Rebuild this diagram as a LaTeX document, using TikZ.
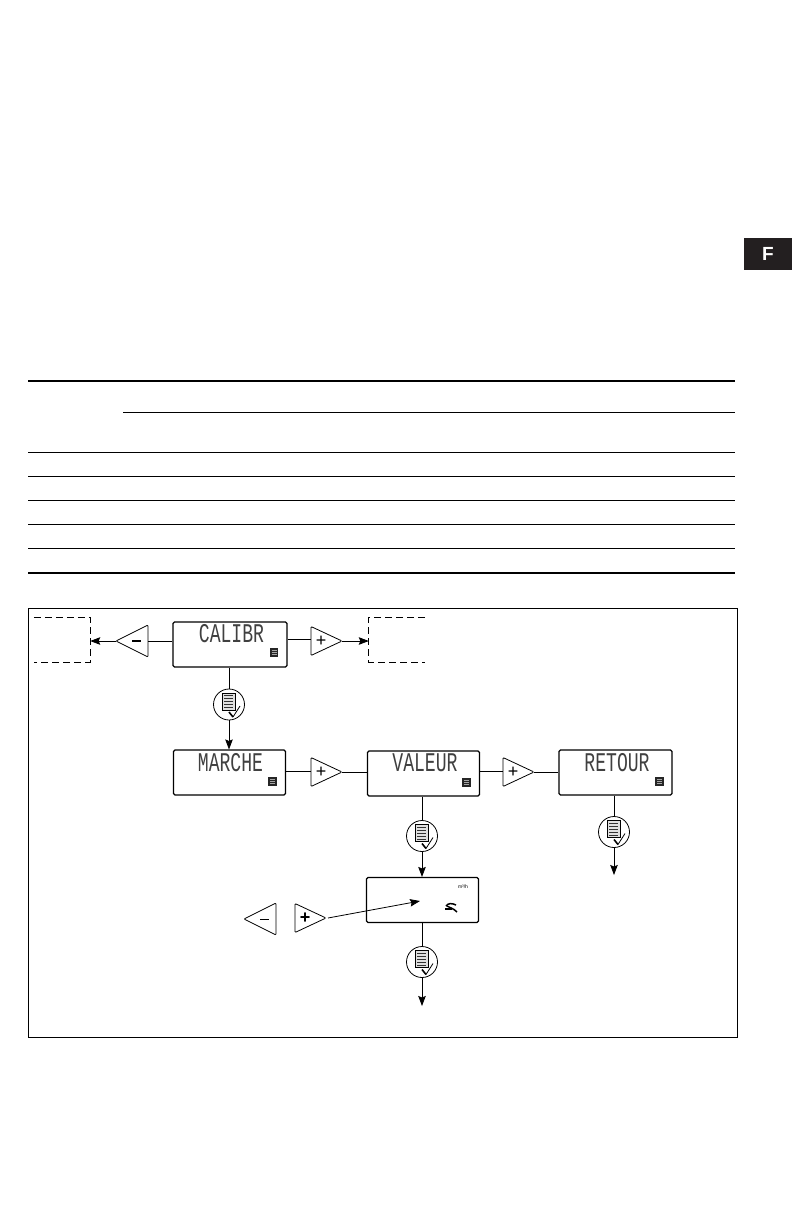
\documentclass[tikz,border=0pt]{standalone}
\usepackage{fontspec}
\usepackage{tikz}
\usetikzlibrary{arrows.meta,positioning,shapes.geometric}
\setmainfont{Liberation Sans}
\newfontfamily\lcdfont{Liberation Mono}
\definecolor{TabGrey}{HTML}{231F20}

\begin{document}
\begin{tikzpicture}[x=1pt,y=-1pt,
    lcd/.style={draw,rounded corners=1.5pt,line width=1.1pt,minimum width=112pt,minimum height=45pt,inner sep=0pt},
    lcdtext/.style={font=\lcdfont\fontsize{27}{27}\selectfont,text=black!75,xscale=0.67,inner sep=0pt},
    menuicon/.style={fill=black!85,minimum width=8.5pt,minimum height=9pt,inner sep=0pt,
        path picture={\foreach \i in {-2,0,2} \draw[black!35,line width=0.4pt] ([xshift=-2.5pt,yshift=\i pt]path picture bounding box.center) -- ++(5pt,0);}},
    okbtn/.style={circle,draw,line width=0.8pt,minimum size=31pt,inner sep=0pt,outer sep=0pt,
        path picture={
            \draw[line width=0.7pt,fill=black!12] ([xshift=-7pt,yshift=11.5pt]path picture bounding box.center) rectangle ++(13pt,-17pt);
            \foreach \i in {9,6,3,0,-3} \draw[line width=0.8pt,black!80] ([xshift=-5pt,yshift=\i pt]path picture bounding box.center) -- ++(9pt,0);
            \draw[line width=1.6pt] ([xshift=0pt,yshift=-7.5pt]path picture bounding box.center) -- ++(4pt,-5pt);
            \draw[line width=0.8pt] ([xshift=4pt,yshift=-12.5pt]path picture bounding box.center) -- ++(7pt,11pt);
        }},
    plusbtn/.style={draw,isosceles triangle,isosceles triangle stretches,shape border rotate=0,rounded corners=1pt,
        minimum width=29pt,minimum height=31pt,inner sep=0pt,outer sep=0pt,line width=0.8pt},
    minusbtn/.style={plusbtn,shape border rotate=180,minimum width=32pt,minimum height=32pt},
    ghostbox/.style={minimum width=56pt,minimum height=44pt,inner sep=0pt},
    ghostline/.style={dashed,dash pattern=on 7pt off 4pt,line width=0.8pt},
    link/.style={line width=0.8pt},
    arrow/.style={-{Stealth[length=10pt,width=7.5pt,inset=1.5pt]},line width=0.8pt},
    rulethin/.style={line width=1pt},
    rulethick/.style={line width=1.9pt}
]
\useasboundingbox (0,0) rectangle (792,1224);

% tab
\node[fill=TabGrey,text=white,font=\bfseries\fontsize{19}{19}\selectfont,minimum width=48pt,minimum height=32pt,inner sep=0pt] (tabF) at (768,254) {F};

% table rules
\coordinate (tl) at (28,381);  \coordinate (tr) at (735,381);
\draw[rulethick] (tl) -- (tr);
\coordinate (hl) at (123,412); \coordinate (hr) at (735,412);
\draw[rulethin] (hl) -- (hr);
\foreach \y in {452,476,500,524,548}
    \draw[rulethin] (28,\y) -- (735,\y);
\coordinate (bl) at (28,573);  \coordinate (br) at (735,573);
\draw[rulethick] (bl) -- (br);

% frame
\node[draw,line width=0.9pt,minimum width=709pt,minimum height=429pt,inner sep=0pt] (frame) at (383,822.5) {};

% displays
\node[lcd,minimum width=114pt] (calibr) at (230,644.5) {};
\node[lcd] (marche) at (229.5,772.5) {};
\node[lcd] (valeur) at (423.5,773.5) {};
\node[lcd,minimum width=113pt] (retour) at (615.5,772.5) {};
\node[lcd] (entry) at (422.5,900) {};

\node[lcdtext] (calibrtext) at (231.5,634) {CALIBR};
\node[lcdtext] (marchetext) at (230.5,763) {MARCHE};
\node[lcdtext] (valeurtext) at (425,763) {VALEUR};
\node[lcdtext] (retourtext) at (617,763) {RETOUR};

\node[menuicon] (calibricon) at (274,652.5) {};
\node[menuicon] (marcheicon) at (272.5,781) {};
\node[menuicon] (valeuricon) at (466.5,782) {};
\node[menuicon] (retouricon) at (659.5,781) {};

\node[font=\fontsize{5}{5}\selectfont,inner sep=0pt] (unit) at (463,887) {m³/h};
\node[inner sep=0pt,minimum size=10pt] (glyph) at (451,907) {};
\draw[line width=1.5pt] (446,906) .. controls (448,903) and (452,903) .. (456,905);
\draw[line width=1.5pt] (447,906) .. controls (450,908) and (453,908) .. (457,912);
\draw[line width=1.1pt] (445,909) -- (452,909);

% buttons
\node[minusbtn,anchor=apex] (minus) at (116,641) {\rule{9pt}{1.8pt}};
\node[plusbtn,anchor=apex] (plusa) at (342,641) {\hspace{3pt}\fontsize{18}{18}\selectfont +};
\node[plusbtn,anchor=apex] (plusb) at (342,772) {\hspace{3pt}\fontsize{18}{18}\selectfont +};
\node[plusbtn,anchor=apex] (plusc) at (534,772) {\hspace{3pt}\fontsize{18}{18}\selectfont +};
\node[minusbtn,anchor=apex] (minusd) at (244,919) {\rule{9pt}{0.9pt}};
\node[plusbtn,anchor=apex] (plusd) at (326,918) {\hspace{3pt}\bfseries\fontsize{18}{18}\selectfont +};

\node[okbtn] (oka) at (229,704.5) {};
\node[okbtn] (okb) at (422,836) {};
\node[okbtn] (okc) at (614,832) {};
\node[okbtn] (okd) at (422,962) {};

% neighbouring steps
\node[ghostbox] (prevstep) at (62,640) {};
\node[ghostbox] (nextstep) at (397,640) {};
\draw[ghostline] (prevstep.north west) -- (prevstep.north east) -- (prevstep.south east) -- (prevstep.south west);
\draw[ghostline] (nextstep.north east) -- (nextstep.north west) -- (nextstep.south west) -- (nextstep.south east);

\coordinate (endc) at (614,875);
\coordinate (endd) at (422,1006);
\coordinate (target) at (420,901);

% connectors
\draw[link] (calibr.west |- minus.east) -- (minus.east |- minus.east);
\draw[arrow] (minus.apex) -- (prevstep.east |- minus.apex);
\draw[link] (calibr.east |- 0,639) -- (plusa.west |- 0,639);
\draw[arrow] (plusa.apex) -- (nextstep.west |- plusa.apex);
\draw[link] (oka.north |- calibr.south) -- (oka.north);
\draw[arrow] (oka.south) -- (oka.south |- marche.north);
\draw[link] (marche.east |- 0,771) -- (plusb.west |- 0,771);
\draw[link] (plusb.apex) -- (valeur.west |- plusb.apex);
\draw[link] (valeur.east |- 0,771) -- (plusc.west |- 0,771);
\draw[link] (plusc.apex) -- (retour.west |- plusc.apex);
\draw[link] (okb.north |- valeur.south) -- (okb.north);
\draw[arrow] (okb.south) -- (okb.south |- entry.north);
\draw[link] (okc.north |- retour.south) -- (okc.north);
\draw[arrow] (okc.south) -- (endc);
\draw[link] (okd.north |- entry.south) -- (okd.north);
\draw[arrow] (okd.south) -- (endd);
\draw[arrow] (plusd.apex) ++(2,0) -- (target);
\end{tikzpicture}
\end{document}
